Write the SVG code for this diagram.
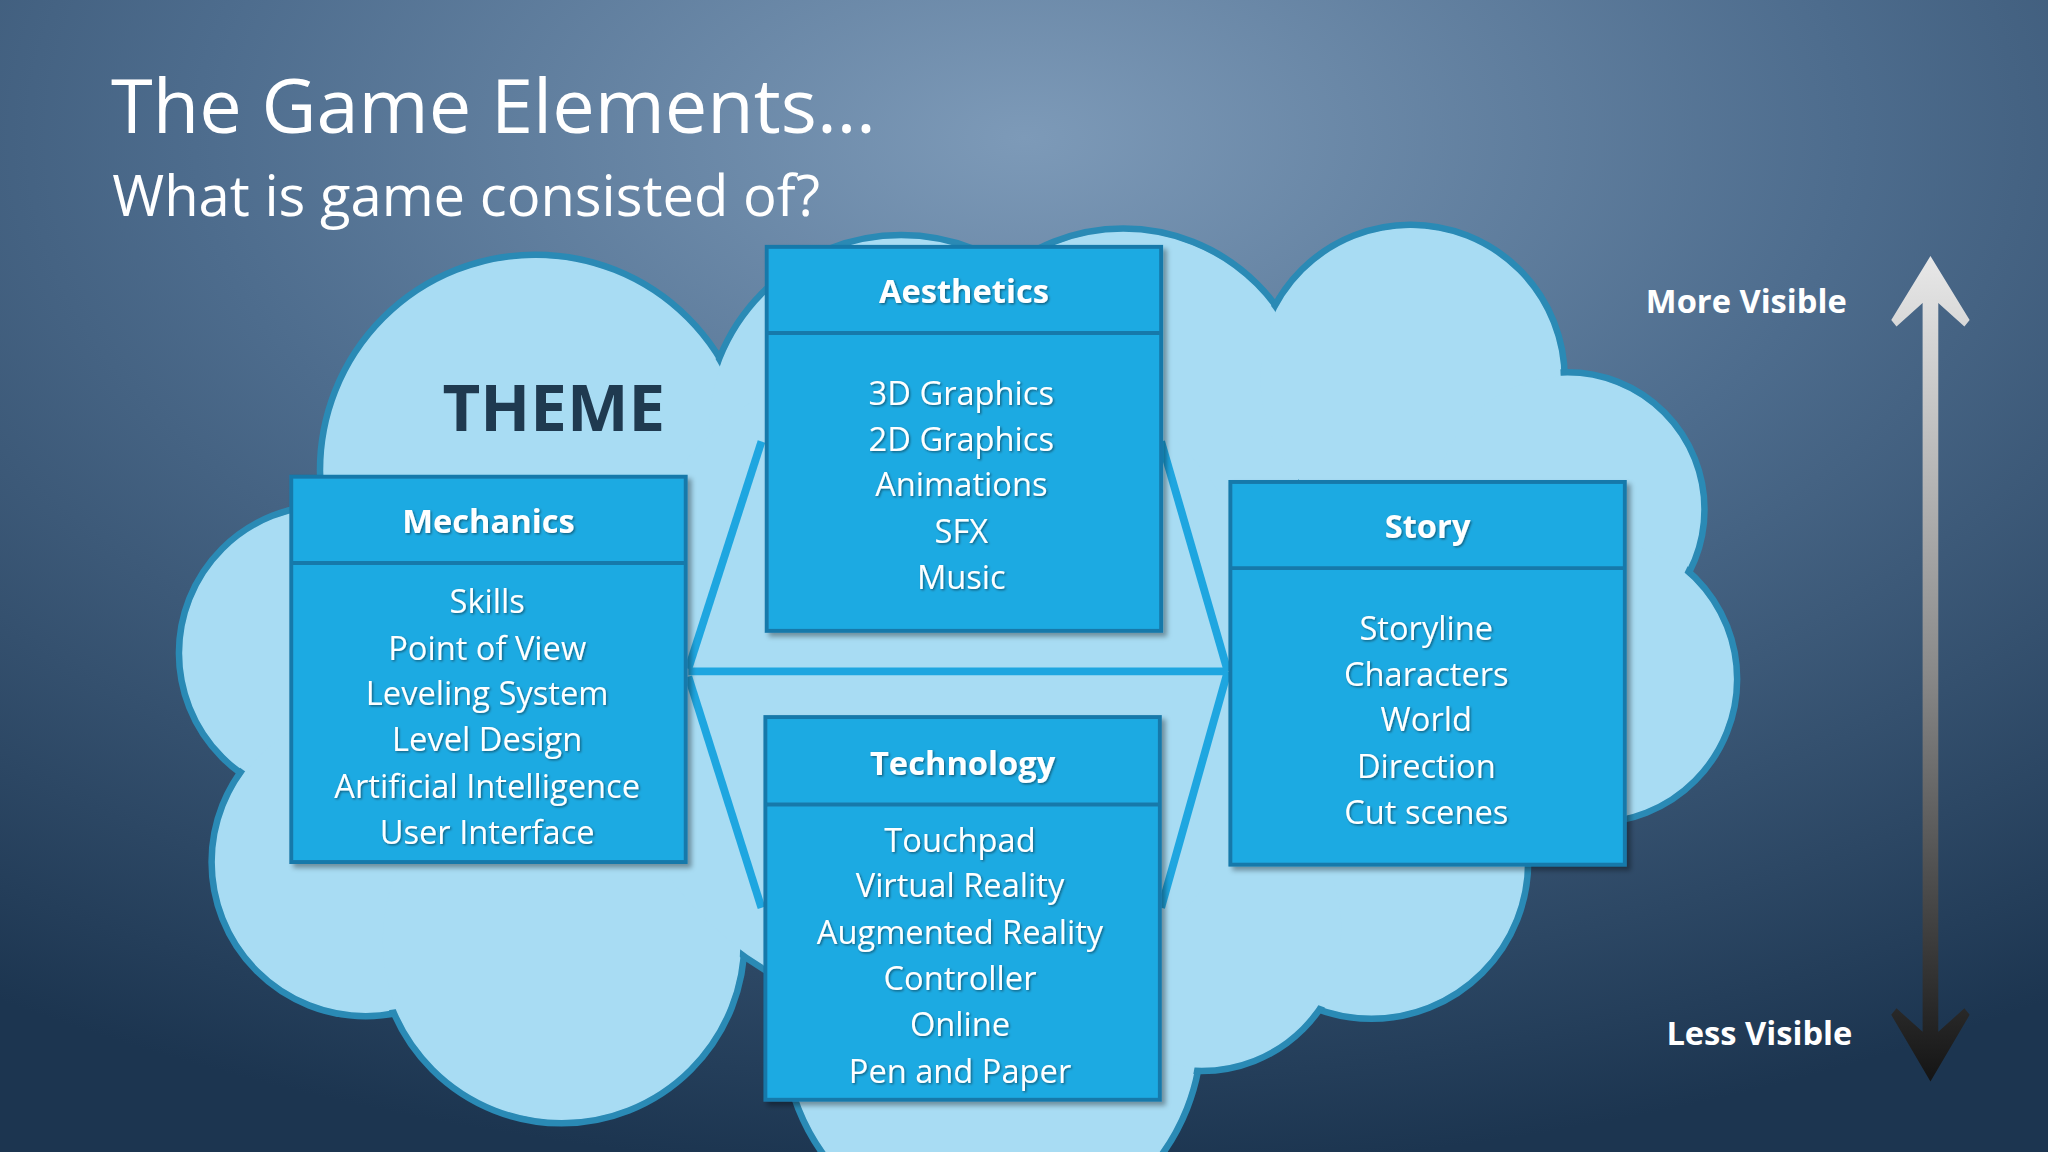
<svg xmlns="http://www.w3.org/2000/svg" width="2048" height="1152" viewBox="0 0 2048 1152">
<defs>
<radialGradient id="bg" cx="0.5" cy="0.12" r="0.9">
<stop offset="0" stop-color="#7d9ab8"/><stop offset="0.45" stop-color="#4d6c8d"/><stop offset="1" stop-color="#1c3550"/>
</radialGradient>
<linearGradient id="arr" x1="0" y1="0" x2="0" y2="1">
<stop offset="0" stop-color="#e8e8e8"/><stop offset="0.5" stop-color="#8a8a8a"/><stop offset="1" stop-color="#141414"/>
</linearGradient>
<filter id="sh" x="-10%" y="-10%" width="130%" height="130%"><feDropShadow dx="3" dy="3" stdDeviation="2" flood-color="#000" flood-opacity="0.35"/></filter>
<filter id="ts"><feDropShadow dx="1" dy="1" stdDeviation="0.8" flood-color="#000" flood-opacity="0.45"/></filter>
<style>
.box{fill:#1eaae2;stroke:#1979aa;stroke-width:3}
.hd{font-family:"Open Sans","Noto Sans",sans-serif;font-weight:bold;font-size:25px;fill:#fff;text-anchor:middle}
.it{font-family:"Open Sans","Noto Sans",sans-serif;font-size:25px;fill:#fff;text-anchor:middle}
.lb{font-family:"Open Sans","Noto Sans",sans-serif;font-weight:bold;font-size:25px;fill:#fff;text-anchor:middle}
.ln{stroke:#1ea6e0;stroke-width:6;fill:none}
.cs circle{fill:#a8dcf3;stroke:#2a8ab5;stroke-width:5}
.cf circle{fill:#a8dcf3}
</style>
</defs>
<rect width="2048" height="1152" fill="url(#bg)"/>
<g transform="scale(1.306122)">
<text x="85" y="102" font-family="Open Sans, Noto Sans, sans-serif" font-size="58" fill="#fff">The Game Elements…</text>
<text x="86" y="165" font-family="Open Sans, Noto Sans, sans-serif" font-size="43" fill="#fff">What is game consisted of?</text>
<g id="cloud">
<g class="cs">
<circle cx="250" cy="500" r="113"/><circle cx="410" cy="360" r="165"/><circle cx="280" cy="660" r="118"/>
<circle cx="430" cy="720" r="140"/><circle cx="690" cy="330" r="150"/><circle cx="860" cy="320" r="145"/>
<circle cx="1080" cy="290" r="118"/><circle cx="1200" cy="390" r="105"/><circle cx="1220" cy="520" r="110"/>
<circle cx="1050" cy="660" r="120"/><circle cx="760" cy="790" r="160"/><circle cx="920" cy="710" r="110"/>
<circle cx="720" cy="520" r="260"/>
</g>
<g class="cf">
<circle cx="250" cy="500" r="110"/><circle cx="410" cy="360" r="162"/><circle cx="280" cy="660" r="115"/>
<circle cx="430" cy="720" r="137"/><circle cx="690" cy="330" r="147"/><circle cx="860" cy="320" r="142"/>
<circle cx="1080" cy="290" r="115"/><circle cx="1200" cy="390" r="102"/><circle cx="1220" cy="520" r="107"/>
<circle cx="1050" cy="660" r="117"/><circle cx="760" cy="790" r="157"/><circle cx="920" cy="710" r="107"/>
<circle cx="720" cy="520" r="257"/>
</g>
<text x="424" y="330" font-family="Open Sans, Noto Sans, sans-serif" font-weight="bold" font-size="50" fill="#1f3a50" text-anchor="middle">THEME</text>
</g>
<g id="connectors">
<line class="ln" x1="527" y1="514" x2="940" y2="514"/>
<line class="ln" x1="527" y1="512" x2="583" y2="338"/>
<line class="ln" x1="527" y1="518" x2="583" y2="695"/>
<line class="ln" x1="889" y1="338" x2="940" y2="514"/>
<line class="ln" x1="889" y1="695" x2="940" y2="514"/>
</g>
<g id="aesthetics" filter="url(#sh)">
<rect class="box" x="587" y="189" width="302" height="294"/><line x1="587" y1="255" x2="889" y2="255" stroke="#1979aa" stroke-width="3"/>
<g filter="url(#ts)"><text class="hd" x="738" y="232">Aesthetics</text>
<text class="it" x="736" y="310">3D Graphics</text><text class="it" x="736" y="345">2D Graphics</text><text class="it" x="736" y="380">Animations</text><text class="it" x="736" y="416">SFX</text><text class="it" x="736" y="451">Music</text></g>
</g>
<g id="mechanics" filter="url(#sh)">
<rect class="box" x="223" y="365" width="302" height="295"/><line x1="223" y1="431" x2="525" y2="431" stroke="#1979aa" stroke-width="3"/>
<g filter="url(#ts)"><text class="hd" x="374" y="408">Mechanics</text>
<text class="it" x="373" y="469">Skills</text><text class="it" x="373" y="505">Point of View</text><text class="it" x="373" y="540">Leveling System</text><text class="it" x="373" y="575">Level Design</text><text class="it" x="373" y="611">Artificial Intelligence</text><text class="it" x="373" y="646">User Interface</text></g>
</g>
<g id="story" filter="url(#sh)">
<rect class="box" x="942" y="369" width="302" height="293"/><line x1="942" y1="435" x2="1244" y2="435" stroke="#1979aa" stroke-width="3"/>
<g filter="url(#ts)"><text class="hd" x="1093" y="412">Story</text>
<text class="it" x="1092" y="490">Storyline</text><text class="it" x="1092" y="525">Characters</text><text class="it" x="1092" y="560">World</text><text class="it" x="1092" y="596">Direction</text><text class="it" x="1092" y="631">Cut scenes</text></g>
</g>
<g id="technology" filter="url(#sh)">
<rect class="box" x="586" y="549" width="302" height="293"/><line x1="586" y1="616" x2="888" y2="616" stroke="#1979aa" stroke-width="3"/>
<g filter="url(#ts)"><text class="hd" x="737" y="593">Technology</text>
<text class="it" x="735" y="652">Touchpad</text><text class="it" x="735" y="687">Virtual Reality</text><text class="it" x="735" y="723">Augmented Reality</text><text class="it" x="735" y="758">Controller</text><text class="it" x="735" y="793">Online</text><text class="it" x="735" y="829">Pen and Paper</text></g>
</g>
<g id="visibility">
<path d="M1472,232 L1452,250 L1448,245 L1478,196 L1508,245 L1504,250 L1484,232 L1484,790 L1504,772 L1508,777 L1478,828 L1448,777 L1452,772 L1472,790 Z" fill="url(#arr)"/>
<text class="lb" x="1337" y="240">More Visible</text>
<text class="lb" x="1347" y="800">Less Visible</text>
</g>
</g>
</svg>
